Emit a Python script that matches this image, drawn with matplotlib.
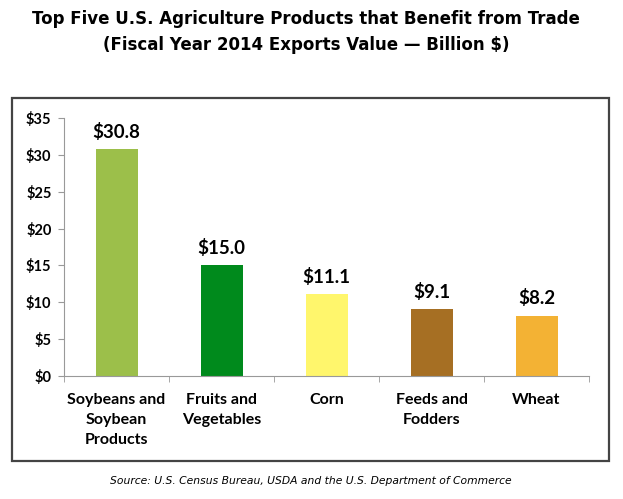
import matplotlib
matplotlib.use("Agg")
import matplotlib.pyplot as plt
from matplotlib.patches import Rectangle
import numpy as np

# data
categories = ["Soybeans and\nSoybean\nProducts", "Fruits and\nVegetables", "Corn",
              "Feeds and\nFodders", "Wheat"]
values = [30.8, 15.0, 11.1, 9.1, 8.2]
bar_colors = ["#9CBF4A", "#008A1C", "#FFF66C", "#A66F23", "#F3B234"]
yticks = [0, 5, 10, 15, 20, 25, 30, 35]

title = ("Top Five U.S. Agriculture Products that Benefit from Trade\n"
         "(Fiscal Year 2014 Exports Value \u2014 Billion $)")
source = "Source: U.S. Census Bureau, USDA and the U.S. Department of Commerce"

lab_font = ["Lato", "DejaVu Sans"]

fig = plt.figure(figsize=(6.23, 4.99), dpi=100)
fig.patch.set_facecolor("white")

# outer frame
box = Rectangle((12/623, 1-461/499), (609-12)/623, (461-98)/499,
                transform=fig.transFigure, fill=False, edgecolor="#444444", lw=1.6)
fig.patches.append(box)

ax = fig.add_axes([64/623, 1-376/499, (589-64)/623, (376-118)/499])
x = np.arange(len(values))
ax.bar(x, values, width=0.4, color=bar_colors, edgecolor="none")

for xi, v in zip(x, values):
    ax.text(xi, v + 1.1, "${:.1f}".format(v), ha="center", va="bottom",
            fontsize=13.5, fontweight="bold", family=lab_font)

ax.set_xlim(-0.5, len(values) - 0.5)
ax.set_ylim(0, 35)
ax.set_yticks(yticks)
ax.set_yticklabels(["${}".format(t) for t in yticks], fontsize=10.5,
                   fontweight="bold", family=lab_font)
ax.set_xticks(x)
ax.set_xticklabels(categories, fontsize=11.5, fontweight="bold", family=lab_font,
                   linespacing=1.55)
ax.set_xticks(np.arange(len(values) + 1) - 0.5, minor=True)
ax.tick_params(axis="x", which="major", length=0, pad=12)
ax.tick_params(axis="x", which="minor", length=4, color="#999999", direction="out")
ax.tick_params(axis="y", length=4, color="#999999", pad=5)

for s in ["top", "right"]:
    ax.spines[s].set_visible(False)
ax.spines["left"].set_color("#999999")
ax.spines["bottom"].set_color("#999999")

fig.text(306/623, 1-32/499, title, ha="center", va="center", fontsize=12,
         fontweight="bold", family="DejaVu Sans", linespacing=1.55)
fig.text(311/623, 1-481/499, source, ha="center", va="center", fontsize=7.75,
         style="italic", family="DejaVu Sans")

fig.savefig("out.png", dpi=100)
